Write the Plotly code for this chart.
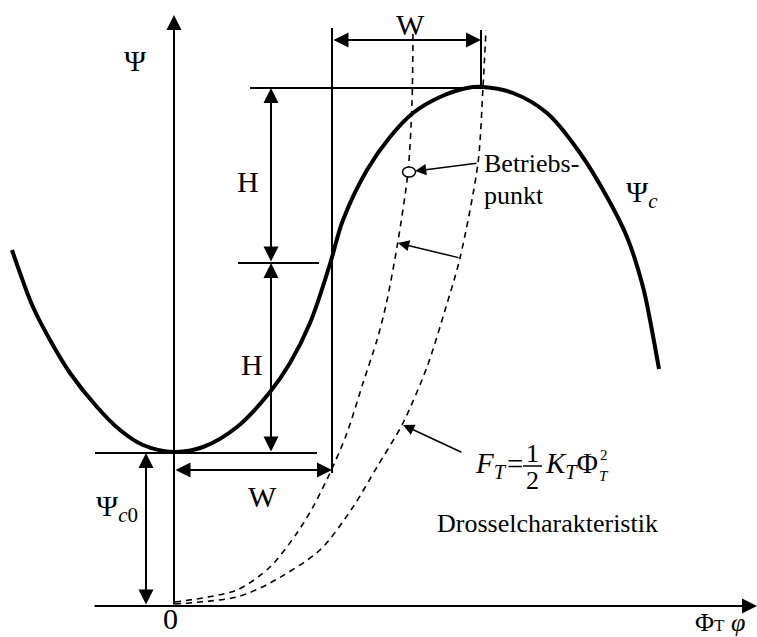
import plotly.graph_objects as go

# Compressor characteristic Psi_c over flow coefficient Phi (thick S-curve)
phi_c = [-1.62, -1.54, -1.41, -1.24, -1.04, -0.77, -0.54, -0.31, 0.0, 0.29, 0.63,
         0.96, 1.16, 1.36, 1.56, 1.69, 1.93, 2.16, 2.39, 2.66, 2.93, 3.09, 3.39,
         3.73, 4.06, 4.33, 4.53, 4.69, 4.76, 4.85]
psi_c = [3.56, 3.33, 2.99, 2.66, 2.33, 1.99, 1.76, 1.61, 1.54, 1.59, 1.79,
         2.14, 2.43, 2.83, 3.42, 3.86, 4.36, 4.69, 4.93, 5.09, 5.18, 5.19, 5.13,
         4.93, 4.53, 4.09, 3.69, 3.19, 2.86, 2.37]

# Throttle characteristics (two throttle settings, dashed)
phi_t1 = [0.01, 0.63, 0.96, 1.23, 1.39, 1.56, 1.73, 1.89, 2.03, 2.12, 2.23, 2.34, 2.38, 2.39]
psi_t1 = [0.04, 0.16, 0.39, 0.73, 0.99, 1.33, 1.73, 2.23, 2.66, 3.01, 3.59, 4.34, 5.03, 5.76]
phi_t2 = [0.01, 0.63, 0.96, 1.46, 1.79, 2.03, 2.29, 2.53, 2.72, 2.86, 3.04, 3.09, 3.12]
psi_t2 = [0.02, 0.09, 0.23, 0.56, 0.99, 1.39, 1.83, 2.39, 2.99, 3.48, 4.43, 5.19, 5.76]

# Operating point
phi_op = 2.35
psi_op = 4.34

# Characteristic levels: Psi_c0 (minimum), Psi_c0 + H, Psi_c0 + 2H; W and 2W
psi_c0 = 1.53
psi_mid = 3.43
psi_max = 5.18
phi_w = 1.58
phi_2w = 3.07

FONT = "Liberation Serif"
BLACK = "black"

fig = go.Figure()

fig.add_trace(go.Scatter(x=phi_t1, y=psi_t1, mode="lines",
                         line=dict(color=BLACK, width=1.6, dash="6px,5px", shape="spline", smoothing=0.8),
                         hoverinfo="skip"))
fig.add_trace(go.Scatter(x=phi_t2, y=psi_t2, mode="lines",
                         line=dict(color=BLACK, width=1.6, dash="6px,5px", shape="spline", smoothing=0.8),
                         hoverinfo="skip"))
fig.add_trace(go.Scatter(x=phi_c, y=psi_c, mode="lines",
                         line=dict(color=BLACK, width=4, shape="spline", smoothing=1.0),
                         hoverinfo="skip"))

shapes = []


def seg(x0, y0, x1, y1, w=2):
    shapes.append(dict(type="line", xref="x", yref="y", x0=x0, y0=y0, x1=x1, y1=y1,
                       line=dict(color=BLACK, width=w)))


# guide lines
seg(-0.79, psi_c0, 1.43, psi_c0)
seg(0.64, psi_mid, 1.45, psi_mid)
seg(0.76, psi_max, phi_2w + 0.02, psi_max)
seg(phi_w, 1.33, phi_w, 5.78)
seg(phi_2w, psi_max, phi_2w, 5.76)

# fraction bar of the throttle law
seg(3.49, 1.40, 3.68, 1.40, 1.5)

# operating point marker
shapes.append(dict(type="circle", xref="x", yref="y",
                   x0=phi_op - 0.065, x1=phi_op + 0.065, y0=psi_op - 0.05, y1=psi_op + 0.05,
                   line=dict(color=BLACK, width=1.5), fillcolor="white", layer="above"))

annotations = []


def arrow(x_tip, y_tip, x_tail, y_tail, both=False, w=2, size=1.5):
    annotations.append(dict(x=x_tip, y=y_tip, ax=x_tail, ay=y_tail,
                            xref="x", yref="y", axref="x", ayref="y",
                            text="", showarrow=True, arrowhead=2,
                            arrowside="end+start" if both else "end",
                            arrowwidth=w, arrowsize=size, arrowcolor=BLACK,
                            startarrowhead=2, startarrowsize=size))


def label(x, y, text, size=30, xanchor="center", yanchor="middle"):
    annotations.append(dict(x=x, y=y, xref="x", yref="y", text=text, showarrow=False,
                            xanchor=xanchor, yanchor=yanchor,
                            font=dict(family=FONT, size=size, color=BLACK)))


# coordinate axes
arrow(5.83, 0.0, -0.81, 0.0)
arrow(0.0, 5.91, 0.0, 0.0)

# dimension arrows
arrow(0.97, psi_max, 0.97, psi_mid, both=True)
arrow(0.97, psi_mid, 0.97, psi_c0, both=True)
arrow(phi_2w, 5.66, phi_w, 5.66, both=True)
arrow(phi_w, 1.36, 0.0, 1.36, both=True)
arrow(-0.28, psi_c0, -0.28, 0.0, both=True)

# pointer arrows
arrow(2.41, 4.35, 3.04, 4.43, w=1.5, size=1.5)
arrow(2.24, 3.63, 2.86, 3.48, w=1.5, size=1.5)
arrow(2.29, 1.81, 2.89, 1.53, w=1.5, size=1.5)

# labels
label(-0.39, 5.46, "Ψ", 30)
label(2.36, 5.82, "W", 30)
label(0.74, 4.25, "H", 30)
label(0.78, 2.42, "H", 30)
label(0.88, 1.10, "W", 30)
label(-0.57, 0.98, "Ψ<sub><i>c</i>0</sub>", 30)
label(4.68, 4.12, "Ψ<sub><i>c</i></sub>", 30)
label(3.08, 4.43, "Betriebs-", 26, xanchor="left")
label(3.08, 4.11, "punkt", 26, xanchor="left")
label(3.73, 0.83, "Drosselcharakteristik", 26)
label(-0.04, -0.31, "0", 30, yanchor="bottom")
label(5.19, -0.16, "Φ<span style='font-size:17px'>T</span> <i>φ</i>", 26, xanchor="left")

# throttle law  F_T = 1/2 K_T Phi_T^2
label(2.99, 1.41, "<i>F<sub>T</sub></i>", 29, xanchor="left")
label(3.41, 1.42, "=", 29)
label(3.585, 1.53, "1", 26)
label(3.585, 1.26, "2", 26)
label(3.69, 1.41, "<i>K<sub>T</sub></i>Φ", 29, xanchor="left")
label(4.30, 1.51, "2", 15)
label(4.30, 1.30, "<i>T</i>", 15)

fig.update_layout(
    width=757, height=637,
    margin=dict(l=0, r=0, t=0, b=0),
    paper_bgcolor="white", plot_bgcolor="white",
    showlegend=False,
    shapes=shapes,
    annotations=annotations,
    xaxis=dict(range=[-1.74, 5.83], visible=False, fixedrange=True),
    yaxis=dict(range=[-0.31, 6.06], visible=False, fixedrange=True),
)

fig.write_html("out.html")
